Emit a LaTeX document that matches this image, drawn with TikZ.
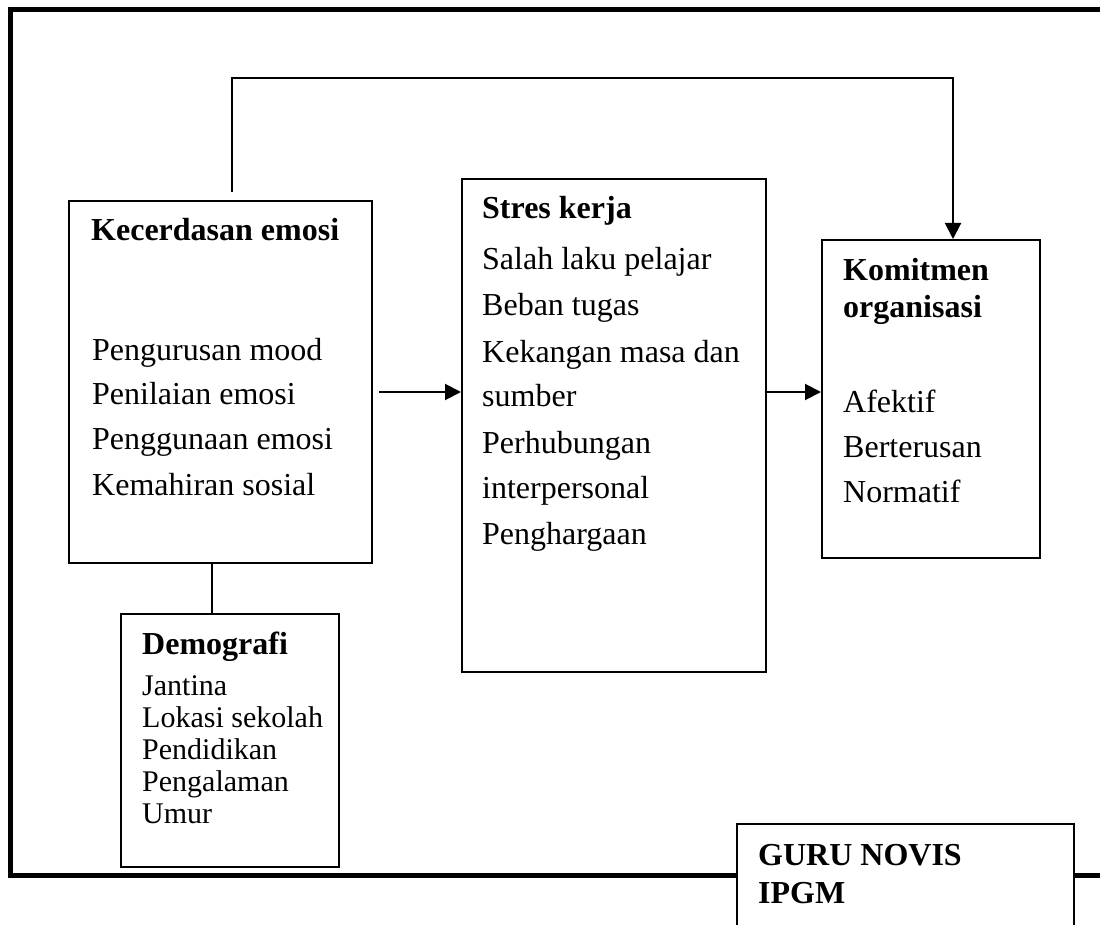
\documentclass[tikz,border=0pt]{standalone}
\usepackage{fontspec}
\setmainfont{Liberation Serif}
\usetikzlibrary{arrows.meta}
\begin{document}
\begin{tikzpicture}[x=1pt,y=-1pt,
  box/.style={draw, line width=2pt, fill=white, inner sep=0pt},
  head/.style={anchor=base west, inner sep=0pt, font=\fontsize{32}{36}\selectfont\bfseries},
  item/.style={anchor=base west, inner sep=0pt, font=\fontsize{32}{36}\selectfont},
  small/.style={anchor=base west, inner sep=0pt, font=\fontsize{30}{32}\selectfont},
  link/.style={line width=2pt},
  arr/.style={line width=2pt, -{Triangle[length=16pt,width=16pt]}}]
\useasboundingbox (0,0) rectangle (1100,925);
\clip (0,0) rectangle (1100,925);

% outer frame
\draw[line width=5pt, line join=miter] (1120,10) -- (10,10) -- (10,875) -- (1120,875);

% boxes
\node[box, minimum width=303pt, minimum height=362pt] (kec) at (220.5,382) {};
\node[box, minimum width=304pt, minimum height=493pt] (stres) at (614,425.5) {};
\node[box, minimum width=218pt, minimum height=318pt] (kom) at (931,399) {};
\node[box, minimum width=218pt, minimum height=253pt] (demo) at (230,740.5) {};
\node[box, minimum width=337pt, minimum height=150pt] (guru) at (905.5,899) {};

% Kecerdasan emosi
\node[head] (k0) at (91,241) {Kecerdasan emosi};
\node[item] (k1) at (92,360) {Pengurusan mood};
\node[item] (k2) at (92,404) {Penilaian emosi};
\node[item] (k3) at (92,449) {Penggunaan emosi};
\node[item] (k4) at (92,495) {Kemahiran sosial};

% Stres kerja
\node[head] (s0) at (482,219) {Stres kerja};
\node[item] (s1) at (482,270) {Salah laku pelajar};
\node[item] (s2) at (482,316) {Beban tugas};
\node[item] (s3) at (482,362) {Kekangan masa dan};
\node[item] (s4) at (482,406) {sumber};
\node[item] (s5) at (482,453) {Perhubungan};
\node[item] (s6) at (482,498) {interpersonal};
\node[item] (s7) at (482,544) {Penghargaan};

% Komitmen organisasi
\node[head] (m0) at (843,281) {Komitmen};
\node[head] (m1) at (843,317) {organisasi};
\node[item] (m2) at (843,412) {Afektif};
\node[item] (m3) at (843,457) {Berterusan};
\node[item] (m4) at (843,502) {Normatif};

% Demografi
\node[head] (d0) at (142,654) {Demografi};
\node[small] (d1) at (142,695) {Jantina};
\node[small] (d2) at (142,727) {Lokasi sekolah};
\node[small] (d3) at (142,759) {Pendidikan};
\node[small] (d4) at (142,791) {Pengalaman};
\node[small] (d5) at (142,823) {Umur};

% Guru novis
\node[head] (g0) at (758,865) {GURU NOVIS};
\node[head] (g1) at (758,903) {IPGM};

% connectors
\coordinate (fb) at (232,192);
\coordinate (a1) at (379,392);
\draw[arr] (fb) -- (232,78) -- (953,78) -- (kom.north -| 953,0);
\draw[arr] (a1) -- (stres.west |- a1);
\draw[arr] (stres.east |- a1) -- (kom.west |- a1);
\draw[link] (kec.south -| 212,0) -- (demo.north -| 212,0);
\end{tikzpicture}
\end{document}
